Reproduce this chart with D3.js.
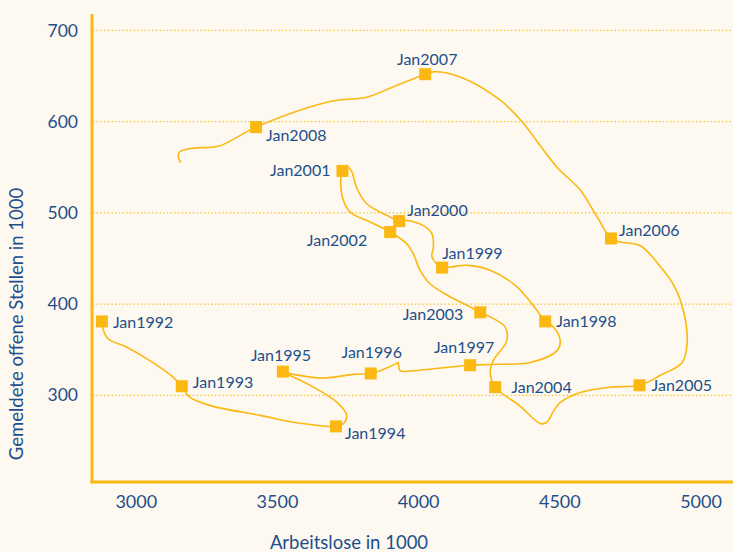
<!DOCTYPE html>
<html>
<head>
<meta charset="utf-8">
<script src="https://cdn.jsdelivr.net/npm/d3@7"></script>
<style>
  html, body { margin: 0; padding: 0; background: #fdf9f1; }
  svg { display: block; font-family: Lato, "Open Sans", sans-serif; }
</style>
</head>
<body>
<svg id="chart" width="733" height="552"></svg>
<script>
// January values, unemployed and vacancies in 1000
const years = [1992, 1993, 1994, 1995, 1996, 1997, 1998, 1999, 2000,
  2001, 2002, 2003, 2004, 2005, 2006, 2007, 2008];
const janUnemployed = [2880, 3163, 3709, 3521, 3832, 4184, 4450, 4085, 3933,
  3732, 3901, 4220, 4273, 4784, 4683, 4025, 3426];
const janVacancies = [381, 310, 266, 326, 324, 333, 381, 440, 491,
  546, 479, 391, 309, 311, 472, 652, 594];

// the monthly path
const pathUnemployed = [
  2880, 2884, 2902, 2967, 3050, 3132, 3163,
  3191, 3262, 3440, 3558, 3709,
  3735, 3747, 3712, 3629, 3521,
  3558, 3664, 3771, 3832,
  3865, 3924, 3929, 3936, 3982, 4184,
  4279, 4397, 4492, 4503, 4479, 4450,
  4421, 4350, 4255, 4173, 4113, 4085,
  4049, 4054, 4049, 4019, 3954, 3933,
  3901, 3818, 3783, 3765, 3752, 3732,
  3729, 3759, 3830, 3901,
  3960, 3983, 4007, 4043, 4113, 4184, 4220,
  4255, 4308, 4314, 4266, 4255, 4273,
  4362, 4433, 4456, 4480, 4503, 4574, 4681, 4784,
  4858, 4935, 4953, 4929, 4901, 4858, 4787, 4716, 4683,
  4634, 4574, 4492, 4362, 4291, 4149, 4053, 4025,
  3911, 3820, 3688, 3426,
  3292, 3202, 3156, 3150, 3159
];
const pathVacancies = [
  381, 373, 362, 353, 338, 320, 310,
  298, 289, 278, 270.5, 266,
  269, 278, 292.5, 309, 326,
  323, 319, 323, 324,
  327, 335, 336, 327, 327, 333,
  334, 336, 349, 360, 375, 381,
  393, 419, 437, 442.5, 440.6, 440,
  451.6, 462.5, 477, 486, 492, 491,
  495.5, 510, 527, 545, 550, 546,
  521, 501, 490, 479,
  466, 455, 437, 422, 408, 397, 391,
  386, 375, 360, 338, 325, 309,
  288, 269, 270.5, 283, 292, 303, 309, 311,
  322, 336, 362, 404, 423, 441, 464, 468, 472,
  495.5, 525, 550, 602, 623.5, 649, 654.6, 652,
  638, 627, 622, 594,
  573, 571, 567, 562, 555
];

const xTicks = [3000, 3500, 4000, 4500, 5000];
const yTicks = [300, 400, 500, 600, 700];
const xTitle = "Arbeitslose in 1000";
const yTitle = "Gemeldete offene Stellen in 1000";

const gold = "#fbb813";
const blue = "#1d4f8b";

// where each label sits relative to its square
const labelPlace = {
  1992: [11, 1, "start"], 1993: [11, -4, "start"], 1994: [9, 7, "start"],
  1995: [-2, -16, "middle"], 1996: [1, -21, "middle"], 1997: [-6, -18, "middle"],
  1998: [11, 0, "start"], 1999: [0, -14, "start"], 2000: [8, -11, "start"],
  2001: [-12, -1, "end"], 2002: [-23, 8, "end"], 2003: [-17, 2, "end"],
  2004: [16, 0, "start"], 2005: [12, 0, "start"], 2006: [8, -8, "start"],
  2007: [2, -15, "middle"], 2008: [10, 8, "start"]
};

const svg = d3.select("#chart");

const x = d3.scaleLinear().domain([2845, 5115]).range([92, 733]);
const y = d3.scaleLinear().domain([205, 718]).range([482, 14]);

// dotted grid lines
svg.append("g")
  .selectAll("line")
  .data(yTicks)
  .join("line")
  .attr("x1", 93)
  .attr("x2", 733)
  .attr("y1", d => y(d))
  .attr("y2", d => y(d))
  .attr("stroke", gold)
  .attr("stroke-width", 1.3)
  .attr("stroke-dasharray", "1.3,2.4");

// axes, no ticks, thick gold domain
const xAxis = d3.axisBottom(x).tickValues(xTicks).tickFormat(d3.format("d"))
  .tickSize(0).tickPadding(13);
const yAxis = d3.axisLeft(y).tickValues(yTicks).tickFormat(d3.format("d"))
  .tickSize(0).tickPadding(14);

svg.append("g")
  .attr("transform", `translate(0,${y.range()[0]})`)
  .call(xAxis)
  .call(g => g.select(".domain").remove())
  .call(g => g.selectAll("text")
    .attr("fill", blue)
    .style("font-size", "18px")
    .style("font-family", "Lato, sans-serif"));

svg.append("g")
  .attr("transform", `translate(${x.range()[0]},0)`)
  .call(yAxis)
  .call(g => g.select(".domain").remove())
  .call(g => g.selectAll("text")
    .attr("fill", blue)
    .style("font-size", "17.5px")
    .style("font-family", "Lato, sans-serif"));

svg.append("line")
  .attr("x1", x.range()[0]).attr("x2", x.range()[0])
  .attr("y1", y.range()[1]).attr("y2", y.range()[0] + 1.5)
  .attr("stroke", gold).attr("stroke-width", 3);

svg.append("line")
  .attr("x1", x.range()[0] - 1.5).attr("x2", x.range()[1])
  .attr("y1", y.range()[0]).attr("y2", y.range()[0])
  .attr("stroke", gold).attr("stroke-width", 3);

// axis titles
svg.append("text")
  .attr("x", 349)
  .attr("y", 543)
  .attr("dy", "0.35em")
  .attr("text-anchor", "middle")
  .attr("fill", blue)
  .style("font-size", "18.5px")
  .text(xTitle);

svg.append("text")
  .attr("transform", "translate(17,324) rotate(-90)")
  .attr("dy", "0.35em")
  .attr("text-anchor", "middle")
  .attr("fill", blue)
  .style("font-size", "18.5px")
  .text(yTitle);

// the path
const pathData = pathUnemployed.map((u, i) => [u, pathVacancies[i]]);
const line = d3.line()
  .x(d => x(d[0]))
  .y(d => y(d[1]))
  .curve(d3.curveCatmullRom.alpha(0.5));

svg.append("path")
  .datum(pathData)
  .attr("d", line)
  .attr("fill", "none")
  .attr("stroke", gold)
  .attr("stroke-width", 1.6);

// January squares and labels
const jan = years.map((yr, i) => ({ year: yr, u: janUnemployed[i], v: janVacancies[i] }));
const sq = 12;

svg.append("g")
  .selectAll("rect")
  .data(jan)
  .join("rect")
  .attr("x", d => x(d.u) - sq / 2)
  .attr("y", d => y(d.v) - sq / 2)
  .attr("width", sq)
  .attr("height", sq)
  .attr("fill", gold);

svg.append("g")
  .selectAll("text")
  .data(jan)
  .join("text")
  .attr("x", d => x(d.u) + labelPlace[d.year][0])
  .attr("y", d => y(d.v) + labelPlace[d.year][1])
  .attr("dy", "0.35em")
  .attr("text-anchor", d => labelPlace[d.year][2])
  .attr("fill", blue)
  .style("font-size", "16px")
  .text(d => "Jan" + d.year);
</script>
</body>
</html>
